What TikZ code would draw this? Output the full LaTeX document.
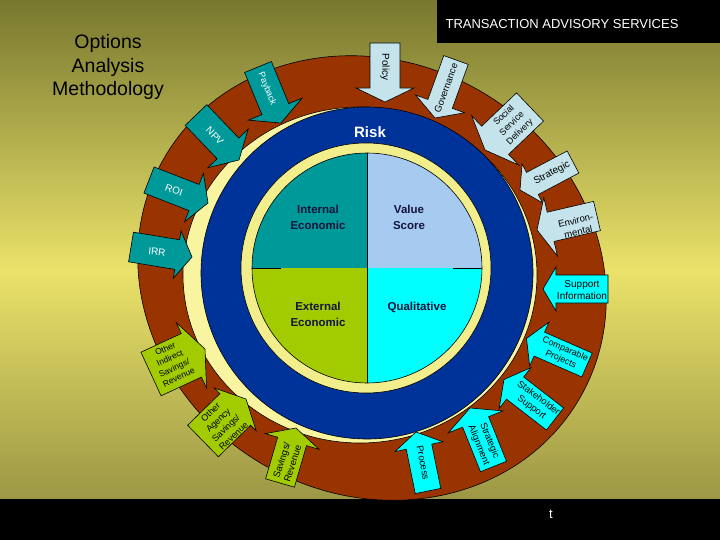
\documentclass[tikz,border=0pt]{standalone}
\usepackage{fontspec}
\setmainfont{Liberation Sans}
\usetikzlibrary{calc}
\definecolor{olivetop}{HTML}{78782F}
\definecolor{yelmid}{HTML}{EAE26A}
\definecolor{olivebot}{HTML}{8E8A3E}
\definecolor{ringbrown}{HTML}{993300}
\definecolor{ringblue}{HTML}{003399}
\definecolor{paleyel}{HTML}{F2EE8C}
\definecolor{gapyel}{HTML}{F8F4A0}
\definecolor{tealc}{HTML}{009999}
\definecolor{ltblue}{HTML}{A6CAF0}
\definecolor{paleblue}{HTML}{C4E3EA}
\definecolor{cyanc}{HTML}{00FFFF}
\definecolor{limec}{HTML}{A2CC00}
\definecolor{qtext}{HTML}{14143C}
\newcommand\fsz[2]{\fontsize{#1}{#2}\selectfont}
% #1 tip, #2 tail centre, #3 shaft half width, #4 head half width, #5 head length, #6 style
\newcommand\blockarrow[6]{%
  \coordinate (bT) at (#1);
  \coordinate (bE) at (#2);
  \coordinate (bB) at ($(bT)!#5pt!(bE)$);
  \draw[#6] (bT) -- ($(bB)!#4pt!90:(bT)$) -- ($(bB)!#3pt!90:(bT)$)
    -- ($(bE)!#3pt!90:(bT)$) -- ($(bE)!#3pt!-90:(bT)$)
    -- ($(bB)!#3pt!-90:(bT)$) -- ($(bB)!#4pt!-90:(bT)$) -- cycle;}
\begin{document}
\begin{tikzpicture}[x=1pt,y=-1pt,
  outl/.style={draw=black, line width=0.6pt, line join=miter},
  tealarr/.style={outl, fill=tealc},
  bluearr/.style={outl, fill=paleblue},
  cyanarr/.style={outl, fill=cyanc},
  greenarr/.style={outl, fill=limec},
  lab/.style={inner sep=0pt, align=center, text=black, font=\fsz{9.5}{11.5}},
  wlab/.style={lab, text=white, font=\fsz{10}{12}},
  qlab/.style={inner sep=0pt, align=center, text=qtext, font=\bfseries\fsz{11.5}{16}}]
\useasboundingbox (0,0) rectangle (720,540);
% background
\shade[top color=olivetop, bottom color=olivebot, middle color=yelmid] (0,0) rectangle (720,540);
\fill[black] (437,0) rectangle (720,43);
\fill[black] (0,499) rectangle (720,540);
\node[text=white, inner sep=0pt, font=\fsz{13}{15}] (hdr) at (562,24) {TRANSACTION ADVISORY SERVICES};
\node[text=white, inner sep=0pt, font=\fsz{13}{15}] (tmark) at (551,514) {t};
\node[text=black, inner sep=0pt, align=center, font=\fsz{19.5}{23.5}] (title) at (108,67) {Options\\Analysis\\Methodology};
% rings
\draw[outl, fill=ringbrown, rotate around={150:(372,278)}] (372,278) ellipse [x radius=240, y radius=216];
\draw[outl, fill=gapyel] (360,275) ellipse [x radius=177, y radius=168];
\draw[outl, fill=ringblue] (367,273) circle [radius=166];
\draw[outl, fill=paleyel] (366,268) circle [radius=125];
\begin{scope}
  \clip (367,268) circle [radius=115];
  \fill[tealc] (252,153) rectangle (367,268);
  \fill[ltblue] (367,153) rectangle (482,268);
  \fill[limec] (252,268) rectangle (367,383);
  \fill[cyanc] (367,268) rectangle (482,383);
\end{scope}
\draw[outl] (367,268) circle [radius=115];
\draw[outl] (367,153) -- (367,383);
\draw[outl] (252,268) -- (281,268);
\draw[outl] (453,268) -- (482,268);
\node[qlab] (intl) at (318,217) {Internal\\Economic};
\node[qlab] (vals) at (409,217) {Value\\Score};
\node[qlab] (extl) at (318,314) {External\\Economic};
\node[qlab] (qual) at (417,307) {Qualitative};
\node[text=white, inner sep=0pt, font=\bfseries\fsz{15}{17}] (risk) at (370,132) {Risk};
% teal arrows
\blockarrow{239,160}{196,115}{15}{28}{16}{tealarr}
\node[wlab, rotate=-47] (npv) at (215,136) {NPV};
\blockarrow{281,123}{258,67}{14.5}{29}{15}{tealarr}
\node[wlab, rotate=-68, font=\fsz{9}{11}] (payback) at (267,89) {Payback};
\blockarrow{208,203}{149,180}{14}{26}{15}{tealarr}
\node[wlab, rotate=-20] (roi) at (174,190) {ROI};
\blockarrow{192,257}{131,247}{15}{24}{15}{tealarr}
\node[wlab, rotate=-7] (irr) at (157,252) {IRR};
% pale blue arrows
\blockarrow{385,102}{385,43}{15}{29}{14}{bluearr}
\node[lab, rotate=-90, font=\fsz{10}{12}] (policy) at (385,67) {Policy};
\blockarrow{435,118}{456,60}{13}{26}{15}{bluearr}
\node[lab, rotate=70] (gov) at (446,88) {Governance};
\blockarrow{485,150}{530,107}{19.5}{34}{14}{bluearr}
\node[lab, rotate=44, font=\fsz{9}{11.5}] (social) at (512,124) {Social\\Service\\Delivery};
\blockarrow{520,190}{573,162}{12.5}{22}{14}{bluearr}
\node[lab, rotate=28, font=\fsz{10}{12}] (strat) at (552,173) {Strategic};
\blockarrow{537,230}{597,216}{15}{30}{14}{bluearr}
\node[lab, rotate=13] (env) at (577,226) {Environ-\\mental};
% cyan arrows
\blockarrow{543,289}{608,289}{14}{22}{13}{cyanarr}
\node[lab, font=\fsz{10}{12}] (supinf) at (582,290) {Support\\Information};
\blockarrow{526.5,338.5}{587,365}{13}{24}{14}{cyanarr}
\node[lab, rotate=-24, font=\fsz{9}{11}] (comp) at (563,354.5) {Comparable\\Projects};
\blockarrow{504,379.5}{555,419}{14}{26}{14}{cyanarr}
\node[lab, rotate=-37] (stake) at (535,403) {Stakeholder\\Support};
\blockarrow{470,408}{493.5,466.5}{14}{29.5}{15}{cyanarr}
\node[lab, rotate=-68] (stalign) at (484,443) {Strategic\\Alignment};
\blockarrow{416,432}{428,491}{13}{24.5}{15}{cyanarr}
\node[lab, rotate=-79] (process) at (423,463) {Process};
% green arrows
\blockarrow{296,428}{280,483}{15}{28}{14}{greenarr}
\node[lab, rotate=72] (savrev) at (287,462) {Savings/\\Revenue};
\blockarrow{246,399}{203,441}{22}{30}{15}{greenarr}
\node[lab, rotate=44, font=\fsz{9}{11}] (agency) at (222,424) {Other\\Agency\\Savings/\\Revenue};
\blockarrow{205,349}{151,374}{24}{36}{15}{greenarr}
\node[lab, rotate=25, font=\fsz{8.5}{10.5}] (indirect) at (172,363) {Other\\Indirect\\Savings/\\Revenue};
\end{tikzpicture}
\end{document}
